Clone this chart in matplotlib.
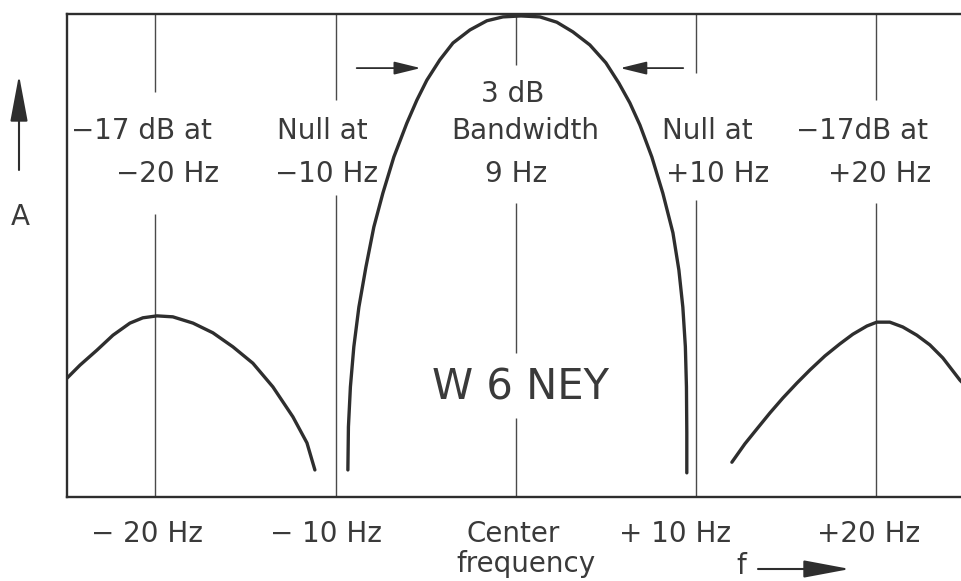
import matplotlib
matplotlib.use("Agg")
import matplotlib.pyplot as plt

# ---- data (frequency offset in Hz, relative amplitude) ----
main_f = [-9.32, -9.29, -9.18, -8.99, -8.71, -8.32, -7.88, -7.38, -6.77, -6.05,
          -5.49, -4.94, -4.22, -3.49, -2.55, -1.61, -0.72, 0.28, 1.33, 2.27,
          3.16, 4.10, 4.99, 5.71, 6.32, 6.88, 7.54, 8.15, 8.71, 9.04,
          9.26, 9.40, 9.46, 9.48, 9.48]
main_a = [0.056, 0.145, 0.228, 0.311, 0.393, 0.476, 0.559, 0.629, 0.704, 0.774,
          0.822, 0.863, 0.905, 0.940, 0.967, 0.986, 0.994, 0.996, 0.994, 0.983,
          0.963, 0.936, 0.899, 0.857, 0.816, 0.770, 0.704, 0.629, 0.547, 0.470,
          0.393, 0.311, 0.228, 0.133, 0.050]

left_f = [-24.90, -24.18, -23.24, -22.35, -21.41, -20.69, -19.91, -19.03,
          -17.91, -16.81, -15.70, -14.59, -13.48, -12.37, -11.59, -11.15]
left_a = [0.246, 0.273, 0.304, 0.335, 0.360, 0.371, 0.375, 0.373,
          0.360, 0.340, 0.311, 0.277, 0.228, 0.166, 0.112, 0.056]

right_f = [11.98, 12.70, 13.37, 14.09, 14.81, 15.59, 16.31, 17.14, 17.97,
           18.69, 19.47, 20.02, 20.74, 21.46, 22.24, 22.96, 23.68, 24.63, 25.2]
right_a = [0.072, 0.110, 0.141, 0.174, 0.205, 0.236, 0.263, 0.292, 0.317,
           0.337, 0.354, 0.362, 0.362, 0.352, 0.335, 0.315, 0.288, 0.242, 0.220]

grid_f = [-20, -10, 0, 10, 20]
tick_labels = ["\u2212 20 Hz", "\u2212 10 Hz", "Center", "+ 10 Hz", "+20 Hz"]

top_labels = [("\u221217 dB at", "\u221220 Hz"),
              ("Null at", "\u221210 Hz"),
              ("Bandwidth", "9 Hz"),
              ("Null at", "+10 Hz"),
              ("\u221217dB at", "+20 Hz")]

# ---- layout ----
INK = "#2e2e2e"
TXT = "#3a3a3a"
FS = 20

fig = plt.figure(figsize=(9.61, 5.81), dpi=100)
ax = fig.add_axes([67 / 961, 84 / 581, 896 / 961, 483 / 581])
ax.set_xlim(-24.9, 24.8)
ax.set_ylim(0, 1.0)
ax.set_xticks([])
ax.set_yticks([])
for side in ("left", "top", "bottom"):
    ax.spines[side].set_linewidth(1.7)
    ax.spines[side].set_color(INK)
ax.spines["right"].set_visible(False)

# vertical reference lines, broken where the captions sit
gaps = [[(0.839, 1), (0, 0.586)],
        [(0.822, 1), (0, 0.625)],
        [(0.894, 1), (0.298, 0.609), (0, 0.164)],
        [(0.878, 1), (0, 0.615)],
        [(0.822, 1), (0, 0.609)]]
for f, segs in zip(grid_f, gaps):
    for lo, hi in segs:
        ax.vlines(f, lo, hi, color="#4a4a4a", lw=1.0)

# response curves
for xs, ys in ((left_f, left_a), (main_f, main_a), (right_f, right_a)):
    ax.plot(xs, ys, color=INK, lw=2.4, solid_capstyle="round",
            solid_joinstyle="round", clip_on=True)

# captions above
cap_x = [(-20.77, -19.33), (-10.76, -10.51), (0.53, 0.03), (10.62, 11.18), (19.22, 20.19)]
for (l1, l2), (x1, x2) in zip(top_labels, cap_x):
    ax.text(x1, 0.741, l1, ha="center", va="baseline", fontsize=FS, color=TXT)
    ax.text(x2, 0.653, l2, ha="center", va="baseline", fontsize=FS, color=TXT)
ax.text(-0.19, 0.818, "3 dB", ha="center", va="baseline", fontsize=FS, color=TXT)

ax.text(0.28, 0.201, "W 6 NEY", ha="center", va="baseline", fontsize=30, color=TXT)

# 3 dB arrows
arw = dict(arrowstyle="-|>,head_length=0.9,head_width=0.22", color=INK, lw=1.3,
           mutation_scale=18, shrinkA=0, shrinkB=0)
ax.annotate("", xy=(-5.28, 0.888), xytext=(-8.83, 0.888), arrowprops=arw)
ax.annotate("", xy=(5.78, 0.888), xytext=(9.28, 0.888), arrowprops=arw)

# labels under the axis
tick_x = [-20.49, -10.54, -0.14, 8.82, 19.58]
for x, lab in zip(tick_x, tick_labels):
    ax.text(x, -0.093, lab, ha="center", va="baseline", fontsize=FS,
            color=TXT, clip_on=False)
ax.text(0.55, -0.155, "frequency", ha="center", va="baseline", fontsize=FS,
        color=TXT, clip_on=False)

# axis names with arrows
fig.text(20, 356, "A", transform=None, ha="center", va="baseline",
         fontsize=FS, color=TXT)
big = dict(arrowstyle="-|>,head_length=1.6,head_width=0.3", color=INK, lw=1.5,
           mutation_scale=18, shrinkA=0, shrinkB=0)
ax.annotate("", xy=(19, 506), xytext=(19, 411), xycoords="figure pixels",
            textcoords="figure pixels", arrowprops=big)
fig.text(741, 7, "f", transform=None, ha="center", va="baseline",
         fontsize=FS, color=TXT)
ax.annotate("", xy=(850, 12), xytext=(758, 12), xycoords="figure pixels",
            textcoords="figure pixels", arrowprops=big)

fig.savefig("out.png", dpi=100)
